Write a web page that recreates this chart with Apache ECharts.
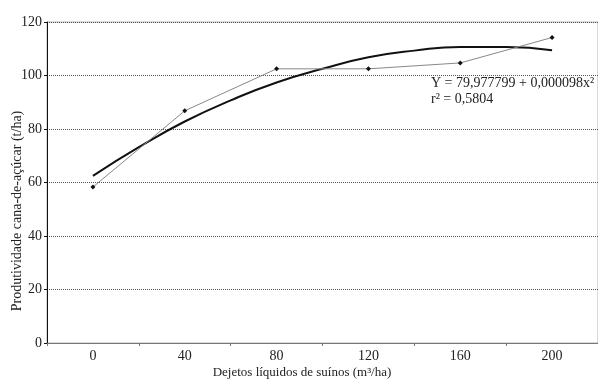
<!DOCTYPE html>
<html><head><meta charset="utf-8">
<script src="https://cdn.jsdelivr.net/npm/echarts@6/dist/echarts.min.js"></script>
<style>html,body{margin:0;padding:0;background:#fff}#c{width:598px;height:381px}</style>
</head><body><div id="c"></div>
<script>
const categories = ['0','40','80','120','160','200'];
const doseX = [0, 40, 80, 120, 160, 200];
const observed = [58.3, 86.8, 102.5, 102.5, 104.7, 114.2];
const curveX = [0, 20, 40, 60, 80, 100, 120, 140, 160, 180, 200];
const curveY = [62.5, 73.2, 82.8, 90.7, 97.4, 102.5, 106.8, 109.3, 110.7, 110.7, 109.4];
const yTicks = [0, 20, 40, 60, 80, 100, 120];
const equationText = 'Y = 79,977799 + 0,000098x²';
const r2Text = 'r² = 0,5804';

const font = 'Liberation Serif';
const chart = echarts.init(document.getElementById('c'), null, {renderer: 'canvas'});
chart.setOption({
  animation: false,
  backgroundColor: '#fff',
  grid: {left: 47, right: -14, top: 22, bottom: 38, show: true, borderColor: '#b5b5b5', borderWidth: 1, backgroundColor: 'transparent'},
  xAxis: [
    {type: 'category', data: categories, boundaryGap: true,
     axisLine: {onZero: false, lineStyle: {color: '#777', width: 1}},
     axisTick: {show: true, length: 3, inside: false, lineStyle: {color: '#777'}},
     axisLabel: {color: '#222', fontFamily: font, fontSize: 14, margin: 6},
     splitLine: {show: false}},
    {type: 'value', min: -20, max: 220, show: false}
  ],
  yAxis: {type: 'value', min: yTicks[0], max: yTicks[yTicks.length-1], interval: 20,
    axisLine: {show: true, onZero: false, lineStyle: {color: '#111', width: 1}},
    axisTick: {show: true, length: 3, lineStyle: {color: '#111'}},
    axisLabel: {color: '#222', fontFamily: font, fontSize: 14, margin: 5},
    splitLine: {show: true, lineStyle: {color: '#555', type: 'dotted', width: 1}}
  },
  series: [
    {type: 'line', xAxisIndex: 1, data: curveX.map((x,i)=>[x, curveY[i]]), smooth: true,
     symbol: 'none', lineStyle: {color: '#111', width: 2}, z: 3},
    {type: 'line', xAxisIndex: 1, data: doseX.map((x,i)=>[x, observed[i]]),
     symbol: 'diamond', symbolSize: 5, itemStyle: {color: '#111'},
     lineStyle: {color: '#888', width: 1}, z: 4}
  ],
  graphic: [
    {type: 'text', left: 431, top: 76, style: {text: equationText, font: '14px "Liberation Serif"', fill: '#222'}},
    {type: 'text', left: 431, top: 92, style: {text: r2Text, font: '14px "Liberation Serif"', fill: '#222'}},
    {type: 'text', x: 302, y: 373, style: {text: 'Dejetos líquidos de suínos (m³/ha)', font: '13px "Liberation Serif"', fill: '#222', align: 'center', verticalAlign: 'middle'}},
    {type: 'text', x: 17, y: 211, rotation: Math.PI/2, style: {text: 'Produtividade cana-de-açúcar (t/ha)', font: '14px "Liberation Serif"', fill: '#222', align: 'center', verticalAlign: 'middle'}}
  ]
});
</script></body></html>
